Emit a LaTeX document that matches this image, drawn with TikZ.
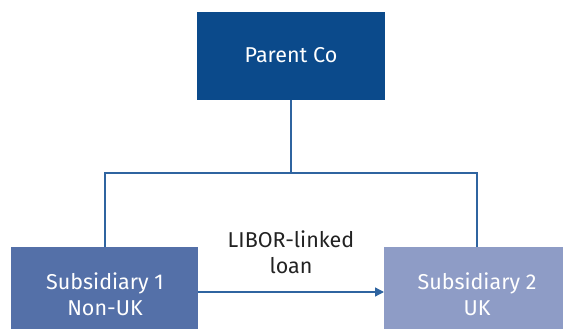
\documentclass[tikz,border=0pt]{standalone}
\usepackage{fontspec}
\setmainfont{Fira Sans}
\usetikzlibrary{arrows.meta}
\definecolor{parentblue}{HTML}{0B4A8B}
\definecolor{subone}{HTML}{5470A8}
\definecolor{subtwo}{HTML}{8E9CC6}
\definecolor{linecol}{HTML}{2F64A0}
\definecolor{labelgray}{HTML}{222222}
\tikzset{
  boxtext/.style={text=white, align=center, font=\fontsize{21.5}{25.5}\selectfont},
  conn/.style={draw=linecol, line width=1.3pt},
}
\begin{document}
\begin{tikzpicture}[x=1pt,y=-1pt]
\useasboundingbox (0,0) rectangle (563,329);
\clip (0,0) rectangle (563,329);
% boxes
\fill[parentblue] (197,12) rectangle (385,100);
\fill[subone] (11,247) rectangle (198,336);
\fill[subtwo] (384,247) rectangle (570,336);
\coordinate (ptop) at (291,100);
\coordinate (s1top) at (105,247);
\coordinate (s2top) at (477,247);
\coordinate (s1right) at (198,292);
\coordinate (s2left) at (384,292);
\node[boxtext] (parent) at (291,55) {Parent Co};
\node[boxtext] (sub1) at (105,294) {Subsidiary 1\\Non-UK};
\node[boxtext] (sub2) at (477,294) {Subsidiary 2\\UK};
\node[align=center, text=labelgray, font=\fontsize{21.5}{25.5}\selectfont] (loan) at (291,252) {LIBOR-linked\\loan};
% connectors
\draw[conn] (ptop) -- (291,173) coordinate (mid);
\draw[conn] (s1top) |- (mid) -| (s2top);
\draw[conn, -{Triangle[length=9pt,width=9pt]}] (s1right) -- (s2left);
\end{tikzpicture}
\end{document}
